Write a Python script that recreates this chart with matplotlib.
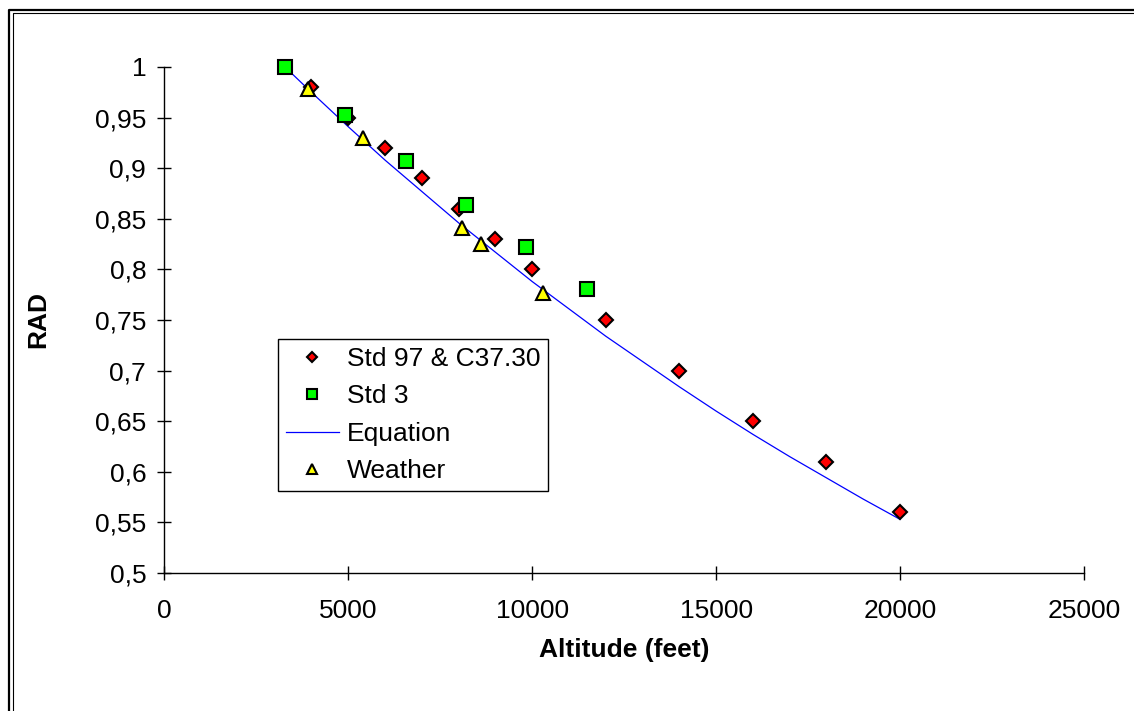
import matplotlib
matplotlib.use('Agg')
import matplotlib.pyplot as plt
from matplotlib.lines import Line2D

# Std 97 & C37.30
std97_alt = [4000, 5000, 6000, 7000, 8000, 9000, 10000, 12000, 14000, 16000, 18000, 20000]
std97_rad = [0.98, 0.95, 0.92, 0.89, 0.86, 0.83, 0.80, 0.75, 0.70, 0.65, 0.61, 0.56]

# Std 3
std3_alt = [3281, 4921, 6562, 8202, 9843, 11483]
std3_rad = [1.0, 0.953, 0.907, 0.864, 0.822, 0.781]

# Equation curve
eq_alt = [3281, 4000, 5000, 6000, 7000, 8000, 9000, 10000, 11000, 12000,
          13000, 14000, 15000, 16000, 17000, 18000, 19000, 20000]
eq_rad = [1.0, 0.975, 0.941, 0.908, 0.877, 0.846, 0.817, 0.788, 0.761, 0.734,
          0.709, 0.684, 0.660, 0.637, 0.615, 0.594, 0.573, 0.553]

# Weather
weather_alt = [3900, 5400, 8100, 8600, 10300]
weather_rad = [0.978, 0.93, 0.841, 0.825, 0.777]

xticks = [0, 5000, 10000, 15000, 20000, 25000]
yticks = [0.5, 0.55, 0.6, 0.65, 0.7, 0.75, 0.8, 0.85, 0.9, 0.95, 1.0]
ytick_labels = ['0,5', '0,55', '0,6', '0,65', '0,7', '0,75', '0,8', '0,85', '0,9', '0,95', '1']

plt.rcParams['font.family'] = ['Liberation Sans', 'DejaVu Sans']
fs = 19

W, H = 1134, 711
fig = plt.figure(figsize=(W / 100, H / 100), dpi=100)
ax = fig.add_axes([164.3 / W, 1 - 573 / H, (1084 - 164.3) / W, (573 - 67) / H])

ax.plot(std97_alt, std97_rad, linestyle='none', marker='D', ms=7.5, mfc='#ff0000',
        mec='black', mew=1.5, clip_on=False, label='Std 97 & C37.30', zorder=3)
ax.plot(std3_alt, std3_rad, linestyle='none', marker='s', ms=10, mfc='#00ff00',
        mec='black', mew=1.5, clip_on=False, label='Std 3', zorder=4)
ax.plot(eq_alt, eq_rad, color='#0000ff', lw=0.9, clip_on=False, label='Equation', zorder=2)
ax.plot(weather_alt, weather_rad, linestyle='none', marker='^', ms=10, mfc='#ffff00',
        mec='black', mew=1.5, clip_on=False, label='Weather', zorder=5)

ax.set_xlim(0, 25000)
ax.set_ylim(0.5, 1.0)
ax.set_xticks(xticks)
ax.set_xticklabels([str(t) for t in xticks])
ax.set_yticks(yticks)
ax.set_yticklabels(ytick_labels)

for s in ['top', 'right']:
    ax.spines[s].set_visible(False)
for s in ['left', 'bottom']:
    ax.spines[s].set_linewidth(1)
ax.tick_params(direction='inout', length=10, width=1, labelsize=fs)
ax.tick_params(axis='y', pad=8)
ax.tick_params(axis='x', pad=14)

ax.set_xlabel('Altitude (feet)', fontsize=fs, fontweight='bold')
ax.set_ylabel('RAD', fontsize=fs, fontweight='bold')
ax.xaxis.set_label_coords(0.5, -0.128)
ax.yaxis.set_label_coords(-0.124, 0.5)

leg = ax.legend(loc='upper left', bbox_to_anchor=(278 / W, 1 - 339 / H),
                bbox_transform=fig.transFigure, fontsize=fs, frameon=True,
                fancybox=False, framealpha=1, edgecolor='black', borderaxespad=0,
                borderpad=0.3, handlelength=2.0, handletextpad=0.3,
                labelspacing=0.51, markerscale=0.65)
leg.get_frame().set_linewidth(1)

# double frame round the chart (right and bottom cropped off)
fig.add_artist(Line2D([9 / W, 9 / W, 1], [0, 1 - 9.5 / H, 1 - 9.5 / H],
                      transform=fig.transFigure, color='black', lw=1.6))
fig.add_artist(Line2D([12.5 / W, 12.5 / W, 1], [0, 1 - 12.5 / H, 1 - 12.5 / H],
                      transform=fig.transFigure, color='black', lw=0.8))

fig.savefig('out.png', dpi=100)
